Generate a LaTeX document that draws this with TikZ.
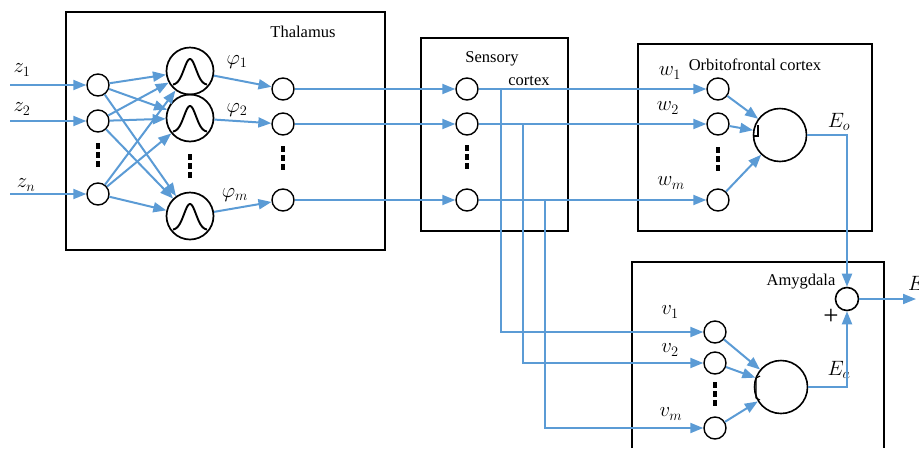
\documentclass[tikz,border=0pt]{standalone}
\usepackage{fontspec}
\setmainfont{Liberation Serif}
\usetikzlibrary{arrows.meta}
\definecolor{linkblue}{RGB}{91,155,213}
\tikzset{
  pics/dotcol/.style={code={
    \foreach \k in {-9,0,9} \fill (-2.2,\k-2.7) rectangle (2.2,\k+2.7);}},
  pics/bellcurve/.style={code={
    \draw[line width=1.9pt] plot[domain=-17:17,samples=51,smooth]
      (\x,{13-26*exp(-(\x/8.5)^2)});}}
}
\begin{document}
\begin{tikzpicture}[x=1pt,y=-1pt,
  neuron/.style={circle,draw,line width=1.4pt,minimum size=22pt,inner sep=0pt},
  gauss/.style={circle,draw,line width=1.7pt,minimum size=47pt,inner sep=0pt},
  summer/.style={circle,draw,line width=1.6pt,minimum size=53pt,inner sep=0pt},
  plusnode/.style={circle,draw,line width=1.6pt,minimum size=23pt,inner sep=0pt},
  region/.style={draw,line width=1.6pt},
  wire/.style={draw=linkblue,line width=2pt},
  link/.style={wire,-{Triangle[length=13pt,width=10pt]}},
  lbl/.style={font=\fontsize{16.5}{19}\selectfont,inner sep=0pt},
  mlbl/.style={font=\fontsize{21}{23}\selectfont,inner sep=0pt}]
\useasboundingbox (0,0) rectangle (919,448);

% ---------- region frames ----------
\draw[region] (66,12) rectangle (385,250);
\draw[region] (421,38) rectangle (568,231);
\draw[region] (638,44) rectangle (872,231);
\draw[region] (632,448) -- (632,262) -- (884,262) -- (884,448);

\node[lbl] (thal) at (303,32) {Thalamus};
\node[lbl] (sens1) at (492,59) {Sensory};
\node[lbl] (sens2) at (529,81) {cortex};
\node[lbl] (ofc) at (755,65) {Orbitofrontal cortex};
\node[lbl] (amy) at (801,282) {Amygdala};

% ---------- thalamus ----------
\node[neuron] (i1) at (98,85) {};
\node[neuron] (i2) at (98,121) {};
\node[neuron] (in) at (98,194) {};
\pic at (98,155) {dotcol};

\node[gauss] (g1) at (190,71) {};
\node[gauss] (g2) at (190,118) {};
\node[gauss] (gm) at (190,216) {};
\pic at (190,72) {bellcurve};
\pic at (190,119) {bellcurve};
\pic at (190,217) {bellcurve};
\pic at (190,166) {dotcol};

\node[neuron] (t1) at (283,89) {};
\node[neuron] (t2) at (283,124) {};
\node[neuron] (tm) at (283,200) {};
\pic at (283,158) {dotcol};

\coordinate (z1in) at (10,85);
\coordinate (z2in) at (10,121);
\coordinate (znin) at (10,194);
\node[mlbl] (z1) at (22,70) {$z_1$};
\node[mlbl] (z2) at (22,109) {$z_2$};
\node[mlbl] (zn) at (26,185) {$z_n$};
\draw[link] (z1in) -- (i1);
\draw[link] (z2in) -- (i2);
\draw[link] (znin) -- (in);

\foreach \a in {i1,i2,in}
  \foreach \b in {g1,g2,gm}
    \draw[link] (\a) -- (\b);

\node[mlbl] (p1) at (237,62) {$\varphi_1$};
\node[mlbl] (p2) at (237,110) {$\varphi_2$};
\node[mlbl] (pm) at (235,195) {$\varphi_m$};
\draw[link] (g1) -- (t1);
\draw[link] (g2) -- (t2);
\draw[link] (gm) -- (tm);

% ---------- sensory cortex ----------
\node[neuron] (s1) at (467,89) {};
\node[neuron] (s2) at (467,124) {};
\node[neuron] (sm) at (467,200) {};
\pic at (467,157) {dotcol};
\draw[link] (t1) -- (s1);
\draw[link] (t2) -- (s2);
\draw[link] (tm) -- (sm);

% ---------- orbitofrontal cortex ----------
\node[neuron] (w1) at (718,89) {};
\node[neuron] (w2) at (718,124) {};
\node[neuron] (wm) at (718,200) {};
\pic at (718,159) {dotcol};
\node[mlbl] (lw1) at (670,73) {$w_1$};
\node[mlbl] (lw2) at (668,108) {$w_2$};
\node[mlbl] (lwm) at (671,183) {$w_m$};
\draw[link] (s1) -- (w1);
\draw[link] (s2) -- (w2);
\draw[link] (sm) -- (wm);

\node[summer] (so) at (780,135) {};
\draw[line width=1.1pt] (758,125) -- (758,136) -- (754,136);
\draw[link] (w1) -- (so);
\draw[link] (w2) -- (so);
\draw[link] (wm) -- (so);
\node[mlbl] (eo) at (839,122) {$E_o$};

% ---------- amygdala ----------
\node[neuron] (v1) at (715,332) {};
\node[neuron] (v2) at (715,363) {};
\node[neuron] (vm) at (715,428) {};
\pic at (715,394) {dotcol};
\node[mlbl] (lv1) at (670,312) {$v_1$};
\node[mlbl] (lv2) at (670,350) {$v_2$};
\node[mlbl] (lvm) at (671,414) {$v_m$};

\coordinate (b1) at (501,89);
\coordinate (b2) at (523,124);
\coordinate (bm) at (545,200);
\draw[link] (b1) |- (v1);
\draw[link] (b2) |- (v2);
\draw[link] (bm) |- (vm);

\node[summer] (sa) at (781,387) {};
\draw[line width=1.1pt] (760,376) -- (756,378) -- (756,398) -- (760,400);
\draw[link] (v1) -- (sa);
\draw[link] (v2) -- (sa);
\draw[link] (vm) -- (sa);
\node[mlbl] (ea) at (839,370) {$E_a$};

\node[plusnode] (plus) at (847,299) {};
\node[font=\fontsize{27}{29}\selectfont,inner sep=0pt] (pl) at (831,317) {+};
\draw[link] (so.east) -| (plus);
\draw[link] (sa.east) -| (plus);

\coordinate (eout) at (916,299);
\draw[link] (plus) -- (eout);
\node[mlbl,anchor=west] (e) at (908,283) {$E$};
\end{tikzpicture}
\end{document}
